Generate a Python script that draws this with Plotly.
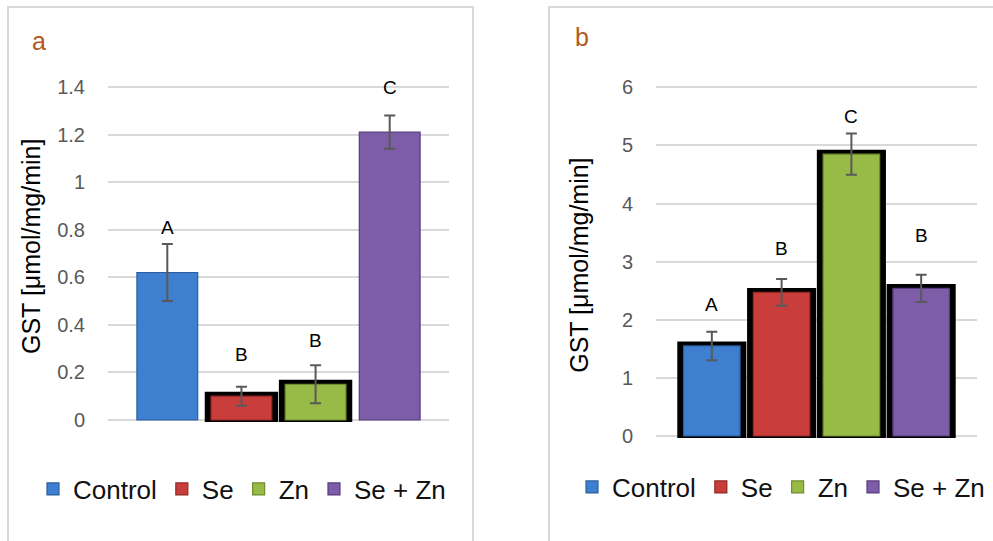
import plotly.graph_objects as go
import numpy as np

# ---- data ----
categories = ["Control", "Se", "Zn", "Se + Zn"]
gst_a = [0.62, 0.10, 0.15, 1.21]
err_a = [0.12, 0.04, 0.08, 0.07]
letters_a = ["A", "B", "B", "C"]
letter_y_a = [0.81, 0.277, 0.336, 1.396]
boxed_a = [False, True, True, False]

gst_b = [1.55, 2.47, 4.85, 2.54]
err_b = [0.245, 0.23, 0.355, 0.235]
letters_b = ["A", "B", "C", "B"]
letter_y_b = [2.255, 3.22, 5.50, 3.45]
boxed_b = [True, True, True, True]

ticks_a = [0, 0.2, 0.4, 0.6, 0.8, 1, 1.2, 1.4]
ticklabels_a = ["0", "0.2", "0.4", "0.6", "0.8", "1", "1.2", "1.4"]
ticks_b = [0, 1, 2, 3, 4, 5, 6]
ticklabels_b = ["0", "1", "2", "3", "4", "5", "6"]

colors = ["#3f7fcf", "#c93d3b", "#98bb47", "#7d5ca8"]
edge_colors = ["#2b5e9e", "#922827", "#6f8c2e", "#573b7d"]

W, H = 993, 541
FONT = "Liberation Sans, Arial, sans-serif"

fig = go.Figure()

def add_panel(vals, errs, boxed, xa, ya, legend, bar_w, pad_top, pad_bot):
    # black frames behind bars
    ybox = [v + pad_top if b else None for v, b in zip(vals, boxed)]
    fig.add_trace(go.Bar(
        x=categories, y=[(y + pad_bot) if y is not None else None for y in ybox],
        base=[-pad_bot] * len(categories), width=0.99,
        marker=dict(color="black", line=dict(width=0)),
        showlegend=False, hoverinfo="skip", xaxis=xa, yaxis=ya,
    ))
    for i, c in enumerate(categories):
        fig.add_trace(go.Bar(
            x=[c], y=[vals[i]], name=c, width=bar_w,
            marker=dict(color=colors[i], line=dict(color=edge_colors[i], width=1.2)),
            error_y=dict(type="data", array=[errs[i]], color="#595959",
                         thickness=2, width=5.5),
            xaxis=xa, yaxis=ya, legend=legend,
        ))

# panel a: 237.9 px per unit ; panel b: 58.12 px per unit
add_panel(gst_a, err_a, boxed_a, "x", "y", "legend", 0.82, 4.5 / 237.9, 2 / 237.9)
add_panel(gst_b, err_b, boxed_b, "x2", "y2", "legend2", 0.81, 4.5 / 58.12, 2 / 58.12)

def px_x(p):
    return p / W

def px_y(p):
    return 1 - p / H

axis_common = dict(showline=False, zeroline=False, ticks="", automargin=False)
fig.update_layout(
    width=W, height=H,
    margin=dict(l=0, r=0, t=0, b=0, pad=0, autoexpand=False),
    paper_bgcolor="white", plot_bgcolor="white",
    barmode="overlay",
    font=dict(family=FONT, color="#000000"),
    xaxis=dict(domain=[px_x(108), px_x(449)], range=[-0.8, 3.8], showticklabels=False,
               showgrid=False, **axis_common),
    yaxis=dict(domain=[px_y(422), px_y(84.6)], range=[-2 / 237.9, 1.41],
               tickvals=ticks_a, ticktext=ticklabels_a, showgrid=True,
               gridcolor="#d9d9d9", gridwidth=1.6,
               tickfont=dict(size=20, color="#595959", family=FONT),
               ticklabelstandoff=22, **axis_common),
    xaxis2=dict(domain=[px_x(656), px_x(977)], range=[-0.8, 3.8], showticklabels=False,
                showgrid=False, anchor="y2", **axis_common),
    yaxis2=dict(domain=[px_y(438), px_y(84.4)], range=[-2 / 58.12, 6.05], anchor="x2",
                tickvals=ticks_b, ticktext=ticklabels_b, showgrid=True,
                gridcolor="#d9d9d9", gridwidth=1.6,
                tickfont=dict(size=20, color="#595959", family=FONT),
                ticklabelstandoff=22, **axis_common),
    legend=dict(orientation="h", x=px_x(33), y=px_y(489), xanchor="left", yanchor="middle",
                font=dict(size=26, color="#111111", family=FONT),
                bgcolor="rgba(0,0,0,0)", traceorder="normal"),
    legend2=dict(orientation="h", x=px_x(572), y=px_y(487), xanchor="left", yanchor="middle",
                 font=dict(size=26, color="#111111", family=FONT),
                 bgcolor="rgba(0,0,0,0)", traceorder="normal"),
)

annotations = []
for i, c in enumerate(categories):
    annotations.append(dict(x=c, y=letter_y_a[i], xref="x", yref="y", text=letters_a[i],
                            xanchor="center", yanchor="middle", showarrow=False,
                            font=dict(size=19, color="#000000", family=FONT)))
    annotations.append(dict(x=c, y=letter_y_b[i], xref="x2", yref="y2", text=letters_b[i],
                            xanchor="center", yanchor="middle", showarrow=False,
                            font=dict(size=19, color="#000000", family=FONT)))

paper_text = dict(xref="paper", yref="paper", xanchor="center", yanchor="middle",
                  showarrow=False)
# axis titles
annotations.append(dict(x=px_x(30.5), y=px_y(246.5), text="GST [μmol/mg/min]",
                        textangle=-90, font=dict(size=25, color="#000000", family=FONT),
                        **paper_text))
annotations.append(dict(x=px_x(579), y=px_y(265.8), text="GST [μmol/mg/min]",
                        textangle=-90, font=dict(size=25, color="#000000", family=FONT),
                        **paper_text))
# panel letters
annotations.append(dict(x=px_x(38.5), y=px_y(41), text="a",
                        font=dict(size=25, color="#b5581b", family=FONT), **paper_text))
annotations.append(dict(x=px_x(582), y=px_y(37), text="b",
                        font=dict(size=25, color="#b5581b", family=FONT), **paper_text))
fig.update_layout(annotations=annotations)

# panel frames
fig.add_shape(type="rect", xref="paper", yref="paper", x0=px_x(8), x1=px_x(473),
              y0=px_y(560), y1=px_y(7), line=dict(color="#d9d9d9", width=2), layer="below")
fig.add_shape(type="rect", xref="paper", yref="paper", x0=px_x(549), x1=px_x(1010),
              y0=px_y(560), y1=px_y(7), line=dict(color="#d9d9d9", width=2), layer="below")

pin_plot = (
    "document.documentElement.style.margin='0';"
    "document.body.style.margin='0';"
    "document.documentElement.style.overflow='hidden';"
    "document.body.style.overflow='hidden';"
    "var gd=document.getElementById('{plot_id}');"
    "gd.style.position='fixed';gd.style.left='0px';gd.style.top='0px';"
)

fig.write_html(
    "out.html",
    config={"displayModeBar": False},
    post_script=pin_plot,
)
